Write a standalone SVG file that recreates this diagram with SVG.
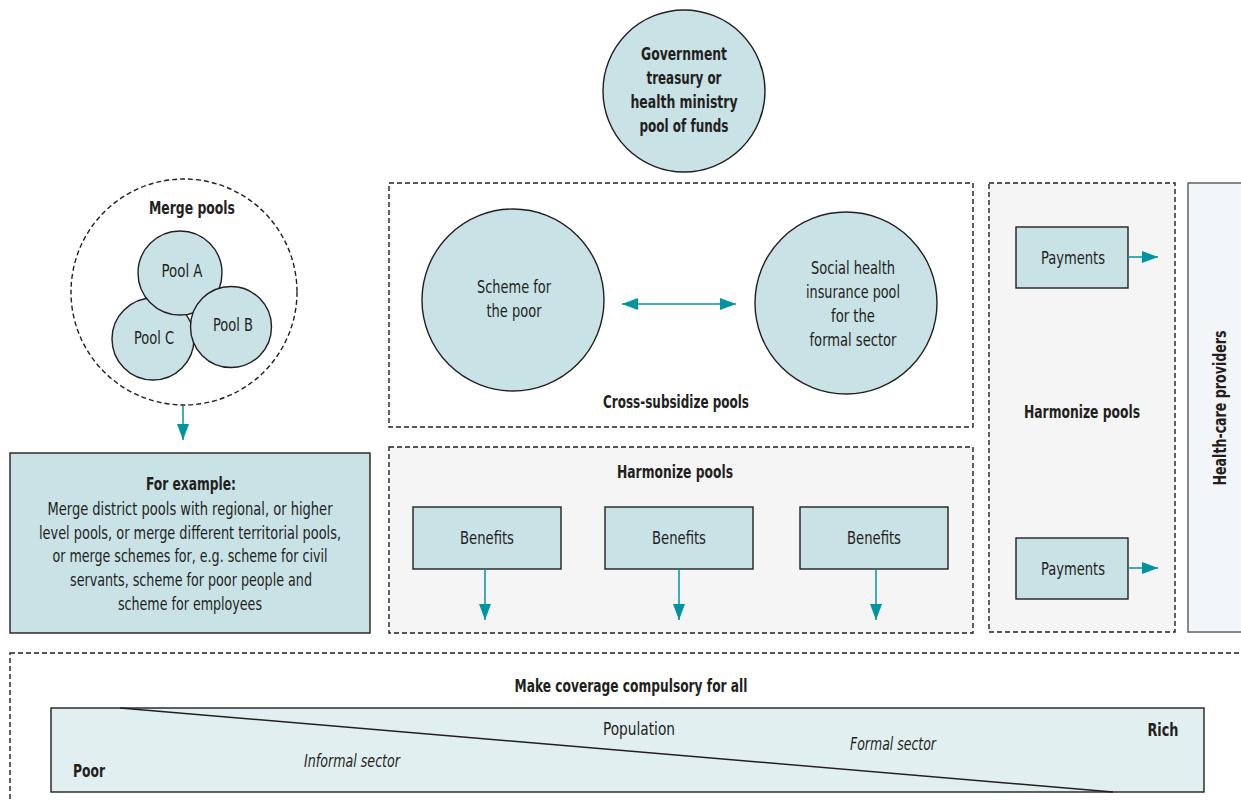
<svg xmlns="http://www.w3.org/2000/svg" width="1241" height="800" viewBox="0 0 1241 800">
<defs>
<marker id="ahb" viewBox="0 0 16 12" refX="16" refY="6" markerWidth="16" markerHeight="12" markerUnits="userSpaceOnUse" orient="auto-start-reverse">
<path d="M0,0 L16,6 L0,12 z" fill="#0093a0"/>
</marker>
</defs>
<style>
text{font-family:"Liberation Sans Narrow","DejaVu Sans Condensed","Liberation Sans",sans-serif;font-size:17px;fill:#231f20;text-anchor:middle}
.b{font-weight:bold}
.i{font-style:italic}
.node{fill:#c9e2e6;stroke:#231f20;stroke-width:1.4}
.dash{stroke:#231f20;stroke-width:1.4;stroke-dasharray:5,3}
.conn{stroke:#0093a0;stroke-width:1.5;fill:none}
</style>
<rect width="1241" height="800" fill="#ffffff"/>

<g id="bottom-zone">
<rect x="10" y="653" width="1245" height="160" fill="#ffffff" class="dash"/>
<text class="b" x="631" y="692" textLength="233" lengthAdjust="spacingAndGlyphs">Make coverage compulsory for all</text>
<rect x="51" y="708" width="1153" height="84" fill="#e2eff1" stroke="#231f20" stroke-width="1.4"/>
<line x1="120" y1="708" x2="1113" y2="792" stroke="#231f20" stroke-width="1.5"/>
<text x="639" y="735" textLength="72" lengthAdjust="spacingAndGlyphs">Population</text>
<text class="b" x="1163" y="736" textLength="31" lengthAdjust="spacingAndGlyphs">Rich</text>
<text class="b" x="89" y="777" textLength="32" lengthAdjust="spacingAndGlyphs">Poor</text>
<text class="i" x="352" y="767" textLength="96" lengthAdjust="spacingAndGlyphs">Informal sector</text>
<text class="i" x="893" y="750" textLength="86" lengthAdjust="spacingAndGlyphs">Formal sector</text>
</g>

<g id="government">
<circle class="node" cx="684" cy="91" r="81"/>
<text class="b" x="684" y="60" textLength="86" lengthAdjust="spacingAndGlyphs">Government</text>
<text class="b" x="684" y="84" textLength="75" lengthAdjust="spacingAndGlyphs">treasury or</text>
<text class="b" x="684" y="108" textLength="107" lengthAdjust="spacingAndGlyphs">health ministry</text>
<text class="b" x="684" y="132" textLength="89" lengthAdjust="spacingAndGlyphs">pool of funds</text>
</g>

<g id="merge-pools">
<circle cx="184" cy="292" r="113" fill="#ffffff" class="dash"/>
<text class="b" x="192" y="214" textLength="86" lengthAdjust="spacingAndGlyphs">Merge pools</text>
<g id="pool-c"><circle class="node" cx="153" cy="339" r="41"/><text x="154" y="344" textLength="40" lengthAdjust="spacingAndGlyphs">Pool C</text></g>
<g id="pool-a"><circle class="node" cx="180" cy="273" r="42"/><text x="182" y="277" textLength="41" lengthAdjust="spacingAndGlyphs">Pool A</text></g>
<g id="pool-b"><circle class="node" cx="231" cy="327" r="40.5"/><text x="233" y="331" textLength="40" lengthAdjust="spacingAndGlyphs">Pool B</text></g>
</g>

<g id="for-example">
<rect class="node" x="10" y="453" width="360" height="180"/>
<text class="b" x="191" y="490" textLength="90" lengthAdjust="spacingAndGlyphs">For example:</text>
<text x="190" y="515" textLength="285" lengthAdjust="spacingAndGlyphs">Merge district pools with regional, or higher</text>
<text x="190" y="539" textLength="302" lengthAdjust="spacingAndGlyphs">level pools, or merge different territorial pools,</text>
<text x="190" y="562" textLength="275" lengthAdjust="spacingAndGlyphs">or merge schemes for, e.g. scheme for civil</text>
<text x="191" y="586" textLength="242" lengthAdjust="spacingAndGlyphs">servants, scheme for poor people and</text>
<text x="190" y="610" textLength="144" lengthAdjust="spacingAndGlyphs">scheme for employees</text>
</g>

<g id="cross-subsidize">
<rect x="389" y="183" width="584" height="244" fill="#ffffff" class="dash"/>
<text class="b" x="676" y="408" textLength="146" lengthAdjust="spacingAndGlyphs">Cross-subsidize pools</text>
<g id="scheme-poor"><circle class="node" cx="513" cy="300" r="91"/>
<text x="514" y="293" textLength="74" lengthAdjust="spacingAndGlyphs">Scheme for</text><text x="514" y="317" textLength="55" lengthAdjust="spacingAndGlyphs">the poor</text></g>
<g id="social-health"><circle class="node" cx="846" cy="303" r="91"/>
<text x="853" y="274" textLength="84" lengthAdjust="spacingAndGlyphs">Social health</text><text x="853" y="298" textLength="94" lengthAdjust="spacingAndGlyphs">insurance pool</text><text x="853" y="322" textLength="44" lengthAdjust="spacingAndGlyphs">for the</text><text x="853" y="346" textLength="87" lengthAdjust="spacingAndGlyphs">formal sector</text></g>
</g>

<g id="harmonize-benefits">
<rect x="389" y="447" width="584" height="186" fill="#f5f5f5" class="dash"/>
<text class="b" x="675" y="478" textLength="116" lengthAdjust="spacingAndGlyphs">Harmonize pools</text>
<g id="benefits-1"><rect class="node" x="413" y="507" width="148" height="62"/><text x="487" y="544" textLength="54" lengthAdjust="spacingAndGlyphs">Benefits</text></g>
<g id="benefits-2"><rect class="node" x="605" y="507" width="148" height="62"/><text x="679" y="544" textLength="54" lengthAdjust="spacingAndGlyphs">Benefits</text></g>
<g id="benefits-3"><rect class="node" x="800" y="507" width="148" height="62"/><text x="874" y="544" textLength="54" lengthAdjust="spacingAndGlyphs">Benefits</text></g>
</g>

<g id="harmonize-payments">
<rect x="989" y="183" width="186" height="449" fill="#f5f5f5" class="dash"/>
<text class="b" x="1082" y="418" textLength="116" lengthAdjust="spacingAndGlyphs">Harmonize pools</text>
<g id="payments-1"><rect class="node" x="1016" y="227" width="112" height="61"/><text x="1073" y="264" textLength="64" lengthAdjust="spacingAndGlyphs">Payments</text></g>
<g id="payments-2"><rect class="node" x="1016" y="538" width="112" height="61"/><text x="1073" y="575" textLength="64" lengthAdjust="spacingAndGlyphs">Payments</text></g>
</g>

<g id="providers">
<rect x="1188" y="183" width="60" height="449" fill="#f3f6f8" stroke="#58595b" stroke-width="1.4"/>
<text class="b" transform="translate(1226,408) rotate(-90)" textLength="155" lengthAdjust="spacingAndGlyphs">Health-care providers</text>
</g>

<g id="connectors">
<line class="conn" x1="183" y1="406" x2="183" y2="440" marker-end="url(#ahb)"/>
<line class="conn" x1="622" y1="304" x2="736" y2="304" marker-start="url(#ahb)" marker-end="url(#ahb)"/>
<line class="conn" x1="485" y1="569" x2="485" y2="620" marker-end="url(#ahb)"/>
<line class="conn" x1="679" y1="569" x2="679" y2="620" marker-end="url(#ahb)"/>
<line class="conn" x1="876" y1="569" x2="876" y2="620" marker-end="url(#ahb)"/>
<line class="conn" x1="1128" y1="257" x2="1158" y2="257" marker-end="url(#ahb)"/>
<line class="conn" x1="1128" y1="568" x2="1158" y2="568" marker-end="url(#ahb)"/>
</g>
</svg>
